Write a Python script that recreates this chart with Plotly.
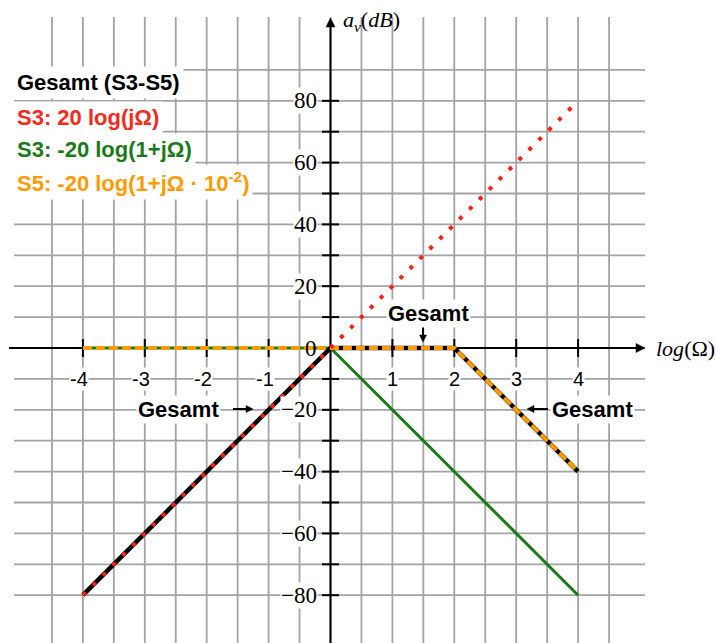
import plotly.graph_objects as go

# Asymptotic Bode magnitude sketch (log scale on x, dB on y)
x_s3 = [-4, 4]
y_s3 = [-80, 80]            # 20 log(jΩ)
x_s3b = [-4, 0, 4]
y_s3b = [0, 0, -80]         # -20 log(1+jΩ)
x_s5 = [-4, 2, 4]
y_s5 = [0, 0, -40]          # -20 log(1+jΩ·10^-2)
x_total = [-4, 0, 2, 4]
y_total = [-80, 0, 0, -40]  # Gesamt (S3-S5)

x_ticks = [-4, -3, -2, -1, 1, 2, 3, 4]
y_ticks = [-80, -60, -40, -20, 0, 20, 40, 60, 80]
y_minor = [-70, -50, -30, -10, 10, 30, 50, 70]
x_grid = [v / 2 for v in range(-9, 10)]
y_grid = list(range(-80, 91, 10))

legend_texts = [
    ("Gesamt (S3-S5)", "#000000"),
    ("S3: 20 log(jΩ)", "#F42A1B"),
    ("S3: -20 log(1+jΩ)", "#1A7A1A"),
    ("S5: -20 log(1+jΩ · 10<sup>-2</sup>)", "#FF9A00"),
]

RED = "#FF1E10"
GREEN = "#1A7A1A"
ORANGE = "#FF9A00"
GRID = "#A3A3A3"

# pixel geometry of the sketch
W, H = 716, 643
X0PX, XSCALE = 330.5, 61.9
Y0PX, YSCALE = 348.0, 3.09


def px_x(px):
    return (px - X0PX) / XSCALE


def px_y(py):
    return (Y0PX - py) / YSCALE


fig = go.Figure()

fig.add_trace(go.Scatter(x=x_s3b, y=y_s3b, mode="lines",
                         line=dict(color=GREEN, width=3), hoverinfo="skip"))
fig.add_trace(go.Scatter(x=x_total, y=y_total, mode="lines",
                         line=dict(color="black", width=4.5), hoverinfo="skip"))
fig.add_trace(go.Scatter(x=x_s5, y=y_s5, mode="lines",
                         line=dict(color=ORANGE, width=4, dash="9px,4px"),
                         hoverinfo="skip"))
fig.add_trace(go.Scatter(x=x_s3, y=y_s3, mode="lines",
                         line=dict(color=RED, width=4, dash="4px,10px"),
                         hoverinfo="skip"))

shapes = []
grid_top, grid_bottom = px_y(17), px_y(700)
grid_left, grid_right = px_x(14), px_x(645)
for gx in x_grid:
    shapes.append(dict(type="line", layer="below", x0=gx, x1=gx,
                       y0=grid_bottom, y1=grid_top,
                       line=dict(color=GRID, width=1.8)))
for gy in y_grid:
    shapes.append(dict(type="line", layer="below", x0=grid_left, x1=grid_right,
                       y0=gy, y1=gy, line=dict(color=GRID, width=1.8)))

# axes through the origin
x_axis_left, x_axis_tip = px_x(9), px_x(645)
y_axis_tip, y_axis_bottom = px_y(18), px_y(700)
shapes.append(dict(type="line", layer="below", x0=x_axis_left, x1=px_x(639),
                   y0=0, y1=0, line=dict(color="black", width=2)))
shapes.append(dict(type="line", layer="below", x0=0, x1=0,
                   y0=y_axis_bottom, y1=px_y(24), line=dict(color="black", width=2)))

# tick marks crossing the axes
tick_half_x = 9 / YSCALE
tick_half_y = 8.5 / XSCALE
for tx in x_ticks:
    shapes.append(dict(type="line", layer="below", x0=tx, x1=tx,
                       y0=-tick_half_x, y1=tick_half_x,
                       line=dict(color="black", width=2)))
for ty in y_ticks + y_minor:
    if ty == 0:
        continue
    shapes.append(dict(type="line", layer="below", x0=-tick_half_y, x1=tick_half_y,
                       y0=ty, y1=ty, line=dict(color="black", width=2)))

# filled arrowheads, sized in pixels around their tip
HEADS = {
    "right": "M0,0 L-9,4.5 L-9,-4.5 Z",
    "left": "M0,0 L9,4.5 L9,-4.5 Z",
    "up": "M0,0 L-4.5,-9 L4.5,-9 Z",
    "down": "M0,0 L-4.5,9 L4.5,9 Z",
}
SMALL_HEADS = {
    "right": "M0,0 L-7,3.5 L-7,-3.5 Z",
    "left": "M0,0 L7,3.5 L7,-3.5 Z",
    "down": "M0,0 L-3.5,7 L3.5,7 Z",
}


def head(xa, ya, path):
    return dict(type="path", xref="x", yref="y", xsizemode="pixel",
                ysizemode="pixel", xanchor=xa, yanchor=ya, path=path,
                fillcolor="black", line=dict(color="black", width=0.5))


shapes.append(head(x_axis_tip, 0, HEADS["right"]))
shapes.append(head(0, y_axis_tip, HEADS["up"]))

# "Gesamt" callout arrows: tail -> head (pixel positions)
callout_arrows = [
    ((233, 409), (253, 409), "right"),
    ((423, 324), (423, 342), "down"),
    ((548, 409), (527, 409), "left"),
]
for (tx_, ty_), (hx, hy), d in callout_arrows:
    sx = {"right": -5, "left": 5, "down": 0}[d]
    sy = {"right": 0, "left": 0, "down": -5}[d]
    shapes.append(dict(type="line", x0=px_x(tx_), y0=px_y(ty_),
                       x1=px_x(hx + sx), y1=px_y(hy + sy),
                       line=dict(color="black", width=2)))
    shapes.append(head(px_x(hx), px_y(hy), SMALL_HEADS[d]))

annotations = []

SANS = "Liberation Sans, Arial, sans-serif"
SERIF = "Liberation Serif, Times New Roman, serif"

# tick labels
for tx in x_ticks:
    annotations.append(dict(x=tx, y=-10, xref="x", yref="y", text=str(tx),
                            showarrow=False, xanchor="center", yanchor="middle",
                            xshift=-3.5 if tx < 0 else 0,
                            font=dict(family=SANS, size=20, color="black"),
                            bgcolor="white", borderpad=0))
for ty in y_ticks:
    label = str(ty).replace("-", "\u2212")
    annotations.append(dict(x=px_x(318), y=ty, xref="x", yref="y", text=label,
                            showarrow=False, xanchor="right", yanchor="middle",
                            font=dict(family=SERIF, size=23, color="black"),
                            bgcolor="rgba(0,0,0,0)" if ty == 0 else "white",
                            borderpad=0))

# axis titles
annotations.append(dict(x=px_x(654), y=0, xref="x", yref="y",
                        text="<i>log</i>(Ω)", showarrow=False,
                        xanchor="left", yanchor="middle",
                        font=dict(family=SERIF, size=22, color="black")))
annotations.append(dict(x=px_x(341), y=px_y(21), xref="x", yref="y",
                        text="<i>a</i><sub><i>v</i></sub>(<i>dB</i>)",
                        showarrow=False, xanchor="left", yanchor="middle",
                        font=dict(family=SERIF, size=22, color="black")))

# legend block
legend_rows_px = [83, 117, 149, 182]
for (txt, col), py in zip(legend_texts, legend_rows_px):
    annotations.append(dict(x=13 / W, y=1 - py / H, xref="paper", yref="paper",
                            text="<b>" + txt + "</b>", showarrow=False,
                            xanchor="left", yanchor="middle",
                            font=dict(family=SANS, size=22, color=col),
                            bgcolor="white", borderpad=3))

# "Gesamt" callout labels
gesamt_labels = [(178, 409), (428, 313), (592, 409)]
for cx, cy in gesamt_labels:
    annotations.append(dict(x=px_x(cx), y=px_y(cy), xref="x", yref="y",
                            text="<b>Gesamt</b>", showarrow=False,
                            xanchor="center", yanchor="middle",
                            font=dict(family=SANS, size=22, color="black"),
                            bgcolor="white", borderpad=1))

fig.update_layout(
    width=W, height=H,
    margin=dict(l=0, r=0, t=0, b=0),
    paper_bgcolor="white", plot_bgcolor="white",
    showlegend=False,
    xaxis=dict(visible=False, range=[px_x(0), px_x(W)], fixedrange=True),
    yaxis=dict(visible=False, range=[px_y(H), px_y(0)], fixedrange=True),
    shapes=shapes,
    annotations=annotations,
)

fig.write_html("out.html")
